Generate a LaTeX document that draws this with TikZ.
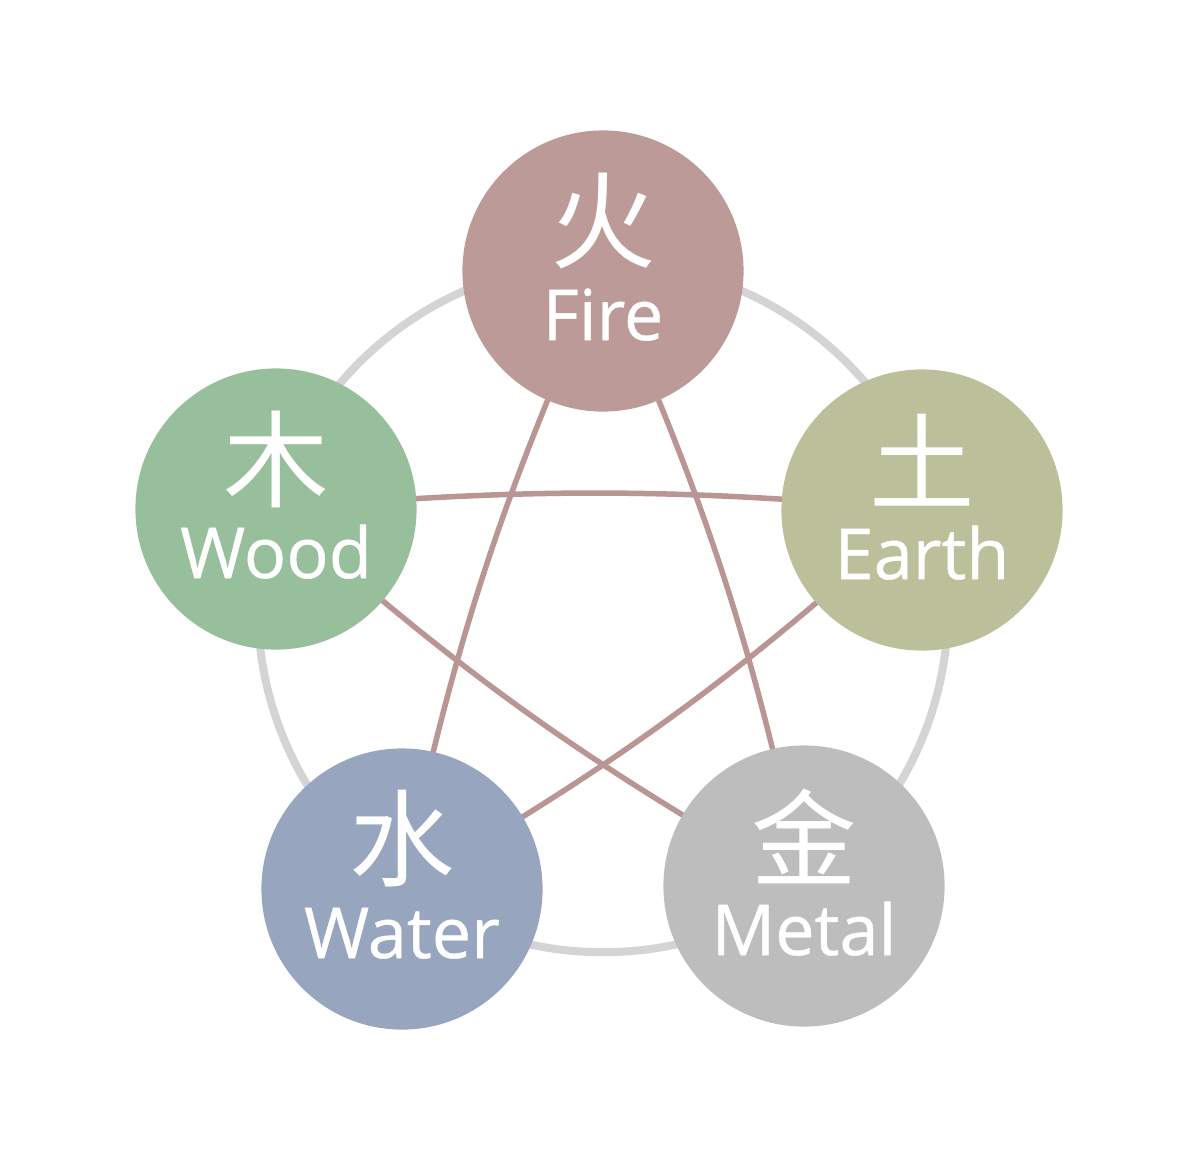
\documentclass[tikz,border=0pt]{standalone}
\usepackage{fontspec}
\setmainfont{Open Sans}[FakeBold=0.6]
\newfontfamily\cjk{Noto Sans CJK SC}
\usetikzlibrary{backgrounds}
\definecolor{firec}{HTML}{BB9A97}
\definecolor{earthc}{HTML}{BBBF9A}
\definecolor{woodc}{HTML}{98BF9C}
\definecolor{waterc}{HTML}{97A5BF}
\definecolor{metalc}{HTML}{BDBDBD}
\definecolor{ringc}{HTML}{D4D4D6}
\definecolor{starc}{HTML}{B99594}
\tikzset{
  elem/.style={circle, minimum size=2.81cm, inner sep=0pt, draw=none},
  chlabel/.style={text=white, font=\cjk\fontsize{30}{32}\selectfont, inner sep=0pt, anchor=center},
  wlabel/.style={text=white, font=\fontsize{20}{24}\selectfont, inner sep=0pt, anchor=base},
  ringline/.style={draw=ringc, line width=0.08cm, circle, minimum size=6.9cm, inner sep=0pt},
  starline/.style={draw=starc, line width=0.055cm}
}
\begin{document}
\begin{tikzpicture}[x=0.01cm, y=0.01cm]
\useasboundingbox (0,0) rectangle (1200,1162);
% element circles
\node[elem, fill=firec]  (fire)  at (603,891) {};
\node[elem, fill=earthc] (earth) at (922,652) {};
\node[elem, fill=woodc]  (wood)  at (276,653) {};
\node[elem, fill=waterc] (water) at (402,273) {};
\node[elem, fill=metalc] (metal) at (804,276) {};
% labels
\foreach \n/\c/\w in {fire/火/Fire, earth/土/Earth, wood/木/Wood, water/水/Water, metal/金/Metal}{
  \node[chlabel] (\n-ch) at ([yshift=0.50cm]\n.center) {\c};
  \node[wlabel]  (\n-w)  at ([yshift=-0.69cm]\n.center) {\w};
}
\begin{pgfonlayer}{background}
  \fill[white] (0,0) rectangle (1200,1162);
  \node[ringline] (ring) at (603,555) {};
  \draw[starline] (fire.center)  to[bend right=6] (water.center);
  \draw[starline] (fire.center)  to[bend left=6]  (metal.center);
  \draw[starline] (wood.center)  to[bend left=5]  (earth.center);
  \draw[starline] (wood.center)  to[bend right=6] (metal.center);
  \draw[starline] (earth.center) to[bend left=6]  (water.center);
\end{pgfonlayer}
\end{tikzpicture}
\end{document}
